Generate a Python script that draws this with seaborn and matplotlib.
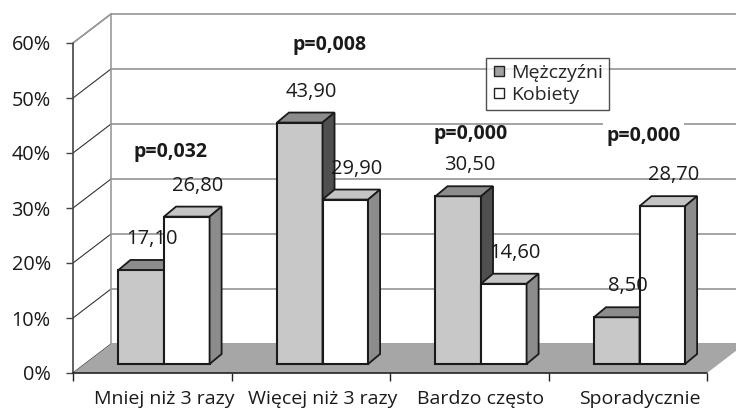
import numpy as np
import pandas as pd
import matplotlib.pyplot as plt
from matplotlib.patches import Polygon, Rectangle
from matplotlib.lines import Line2D
import seaborn as sns

# Data
categories = ["Mniej niż 3 razy", "Więcej niż 3 razy", "Bardzo często", "Sporadycznie"]
groups = ["Mężczyźni", "Kobiety"]
men = [17.10, 43.90, 30.50, 8.50]
women = [26.80, 29.90, 14.60, 28.70]
p_values = ["p=0,032", "p=0,008", "p=0,000", "p=0,000"]
y_ticks = [0, 10, 20, 30, 40, 50, 60]

df = pd.DataFrame({
    "kategoria": categories * 2,
    "plec": [groups[0]] * len(men) + [groups[1]] * len(women),
    "wartosc": men + women,
})

sns.set_style("white")
plt.rcParams["font.family"] = ["Open Sans", "DejaVu Sans"]

W, H = 736, 412
fig = plt.figure(figsize=(W / 100, H / 100), dpi=100)
# axes = front plane of the 3D box, origin at the front-left corner of the floor
ax = fig.add_axes([73 / W, 39 / H, 663 / W, 373 / H])

px_x = 158.5   # pixels per category
px_y = 5.5     # pixels per percent
DX, DY = 38 / px_x, 29 / px_y          # depth of the floor
BX, BY = DX * 0.31, DY * 0.31          # bar front offset into depth
TX, TY = 12 / px_x, 10 / px_y          # bar depth

n = len(categories)
xmin, xmax = -0.5, n - 0.5
ink = "#1a1a1a"

# front bars through seaborn
sns.barplot(data=df, x="kategoria", y="wartosc", hue="plec",
            palette=["#c8c8c8", "#ffffff"], saturation=1, width=0.575,
            edgecolor=ink, linewidth=1.5, legend=False, ax=ax)
bars = [p for p in ax.patches if isinstance(p, Rectangle)]

# back wall grid lines and left wall
for v in y_ticks:
    ax.plot([xmin + DX, xmax + 1], [v + DY, v + DY], color="#8a8a8a", lw=1.1, zorder=0.5)
    ax.plot([xmin, xmin + DX], [v, v + DY], color="#333333", lw=0.8, zorder=0.5)
ax.plot([xmin + DX, xmin + DX], [DY, max(y_ticks) + DY], color="#9a9a9a", lw=1.2, zorder=0.5)
ax.plot([xmin, xmin + DX], [max(y_ticks), max(y_ticks) + DY], color="#9a9a9a", lw=1.2, zorder=0.5)

# floor
ax.add_patch(Polygon([(xmin, 0), (xmax, 0), (xmax + DX, DY), (xmin + DX, DY)],
                     closed=True, fc="#a6a6a6", ec="none", zorder=1))

top_cols = {0: "#8c8c8c", 1: "#c4c4c4"}
side_cols = {0: "#4f4f4f", 1: "#8c8c8c"}
for k, p in enumerate(bars[:2 * n]):
    g = k // n
    p.set_x(p.get_x() + BX)
    p.set_y(BY)
    p.set_zorder(3 + g)
    x, w, top = p.get_x(), p.get_width(), BY + p.get_height()
    ax.add_patch(Polygon([(x, top), (x + w, top), (x + w + TX, top + TY), (x + TX, top + TY)],
                         closed=True, fc=top_cols[g], ec=ink, lw=1.3, zorder=3.2 + g))
    ax.add_patch(Polygon([(x + w, BY), (x + w + TX, BY + TY), (x + w + TX, top + TY), (x + w, top)],
                         closed=True, fc=side_cols[g], ec=ink, lw=1.3, zorder=3.2 + g))
    val = p.get_height()
    ax.text(x + w / 2 + 0.07, top + 31 / px_y, f"{val:.2f}".replace(".", ","),
            ha="center", va="center", fontsize=14.5, color=ink, zorder=6)

# p-values
p_pos = [(0.118, 40.2), (1.12, 59.6), (2.01, 43.4), (3.10, 43.1)]
p_box = [False, False, False, True]
for txt, (px, py), boxed in zip(p_values, p_pos, p_box):
    ax.text(px, py, txt, ha="center", va="center", fontsize=14, fontweight="bold",
            color=ink, zorder=6,
            bbox=dict(fc="white", ec="none", pad=2.5) if boxed else None)

# axis lines
ax.plot([xmin, xmin], [0, max(y_ticks)], color="#444444", lw=1.2, zorder=2, clip_on=False)
ax.plot([xmin, xmax], [0, 0], color="#222222", lw=1.2, zorder=2, clip_on=False)

ax.set_xlim(xmin, xmin + 663 / px_x)
ax.set_ylim(0, 373 / px_y)
for s in ax.spines.values():
    s.set_visible(False)

ax.set_yticks(y_ticks)
ax.set_yticklabels([f"{v}%" for v in y_ticks], fontsize=14.3, color=ink)
ax.tick_params(axis="y", left=True, length=5, width=1, color="#444444", pad=11)

ax.set_xticks(np.arange(n) + BX)
ax.set_xticklabels(categories, fontsize=14, color=ink)
ax.set_xticks(np.arange(n + 1) - 0.5, minor=True)
ax.tick_params(axis="x", which="major", bottom=True, length=0, pad=12)
ax.tick_params(axis="x", which="minor", bottom=True, length=6, width=1, color="#222222")
ax.set_xlabel("")
ax.set_ylabel("")

# legend
handles = [Line2D([], [], marker="s", linestyle="none", markersize=6.5,
                  markerfacecolor=c, markeredgecolor="#222222")
           for c in ["#a0a0a0", "#ffffff"]]
leg = fig.legend(handles, groups, loc="upper left", bbox_to_anchor=(486 / W, 1 - 58 / H),
                 frameon=True, fancybox=False, fontsize=14, handlelength=0.7,
                 handletextpad=0.3, labelspacing=0.2, borderpad=0.3, borderaxespad=0)
leg.get_frame().set_edgecolor("#222222")
leg.get_frame().set_linewidth(1)

fig.savefig("out.png", dpi=100)
